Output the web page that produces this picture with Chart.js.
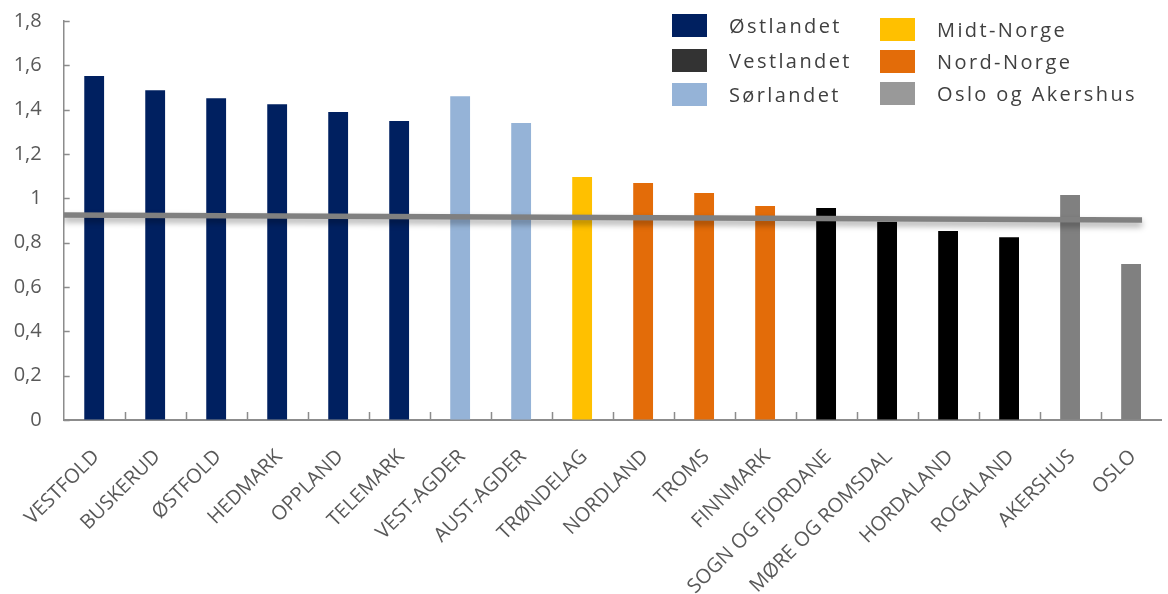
<!DOCTYPE html>
<html>
<head>
<meta charset="utf-8">
<script src="https://cdn.jsdelivr.net/npm/chart.js@4.4.1/dist/chart.umd.min.js"></script>
<style>
  html, body { margin: 0; padding: 0; background: #fff; overflow: hidden; }
  #wrap { position: relative; width: 1173px; height: 594px; }
  #legend { position: absolute; left: 0; top: 0; }
  .item { position: absolute; height: 23px; font: 20px "Open Sans", sans-serif; letter-spacing: 2.4px; color: #404040; white-space: nowrap; }
  .item i { position: absolute; left: 0; top: 0; width: 35px; height: 23px; }
  .item span { position: absolute; left: 57px; top: -2px; }
</style>
</head>
<body>
<div id="wrap">
  <canvas id="chart"></canvas>
  <div id="legend"></div>
</div>
<script>
const categories = ['VESTFOLD', 'BUSKERUD', 'ØSTFOLD', 'HEDMARK', 'OPPLAND', 'TELEMARK', 'VEST-AGDER', 'AUST-AGDER',
    'TRØNDELAG', 'NORDLAND', 'TROMS', 'FINNMARK', 'SOGN OG FJORDANE', 'MØRE OG ROMSDAL', 'HORDALAND', 'ROGALAND',
    'AKERSHUS', 'OSLO'];
const values = [1.552, 1.488, 1.452, 1.425, 1.389, 1.349, 1.461, 1.340, 1.096, 1.069, 1.024, 0.965, 0.956, 0.894,
    0.853, 0.825, 1.015, 0.704];
// index into regions for each category
const categoryRegion = [0, 0, 0, 0, 0, 0, 2, 2, 3, 4, 4, 4, 1, 1, 1, 1, 5, 5];
const regions = ['Østlandet', 'Vestlandet', 'Sørlandet', 'Midt-Norge', 'Nord-Norge', 'Oslo og Akershus'];
const regionColors = ['#002060', '#000000', '#95b3d7', '#ffc000', '#e36c09', '#808080'];
const swatchColors = ['#002060', '#333333', '#95b3d7', '#ffc000', '#e36c09', '#999999'];
// flat line across the plot, in category-index units
const trendX = [-0.5, 17.18];
const trendY = [0.925, 0.902];
const yTicks = [0, 0.2, 0.4, 0.6, 0.8, 1, 1.2, 1.4, 1.6, 1.8];

const axisColor = '#8c8c8c';
const labelColor = '#595959';

// legend, two columns of three
const legendPos = [[672, 14], [672, 49], [672, 83], [880, 18], [880, 50], [880, 82]];
const legendEl = document.getElementById('legend');
regions.forEach((name, i) => {
    const d = document.createElement('div');
    d.className = 'item';
    d.style.left = legendPos[i][0] + 'px';
    d.style.top = legendPos[i][1] + 'px';
    d.innerHTML = `<i style="background:${swatchColors[i]}"></i><span>${name}</span>`;
    legendEl.appendChild(d);
});

// tick marks pointing into the plot
const innerTicks = {
    id: 'innerTicks',
    afterDraw(chart) {
        const { ctx } = chart;
        const x = chart.scales.x, y = chart.scales.y;
        ctx.save();
        ctx.strokeStyle = axisColor;
        ctx.lineWidth = 1.5;
        ctx.beginPath();
        yTicks.forEach(v => {
            const py = Math.round(y.getPixelForValue(v)) + 0.5;
            ctx.moveTo(x.left, py);
            ctx.lineTo(x.left + 6, py);
        });
        const step = x.width / categories.length;
        for (let i = 1; i < categories.length; i++) {
            const px = Math.round(x.left + i * step) + 0.5;
            ctx.moveTo(px, y.bottom);
            ctx.lineTo(px, y.bottom - 8);
        }
        ctx.stroke();
        ctx.restore();
    }
};

// soft shadow under the trend line
const lineShadow = {
    id: 'lineShadow',
    beforeDatasetDraw(chart, args) {
        if (args.index !== 1) return;
        const ctx = chart.ctx;
        ctx.save();
        ctx.shadowColor = 'rgba(0,0,0,0.35)';
        ctx.shadowBlur = 6;
        ctx.shadowOffsetY = 4;
    },
    afterDatasetDraw(chart, args) {
        if (args.index === 1) chart.ctx.restore();
    }
};

new Chart(document.getElementById('chart'), {
    data: {
        labels: categories,
        datasets: [{
            type: 'bar',
            data: values,
            backgroundColor: categoryRegion.map(r => regionColors[r]),
            barPercentage: 0.325,
            categoryPercentage: 1,
            grouped: false,
            order: 2
        }, {
            type: 'line',
            xAxisID: 'xt',
            data: trendX.map((x, i) => ({ x, y: trendY[i] })),
            borderColor: '#808080',
            borderWidth: 5.5,
            borderCapStyle: 'butt',
            pointRadius: 0,
            order: 1
        }]
    },
    options: {
        responsive: true,
        maintainAspectRatio: false,
        animation: false,
        devicePixelRatio: 1,
        layout: { padding: { top: 21, right: 0, left: 0, bottom: 0 } },
        plugins: { legend: { display: false }, tooltip: { enabled: false } },
        scales: {
            x: {
                type: 'category',
                offset: true,
                grid: { display: false, drawTicks: false },
                border: { color: axisColor, width: 2 },
                ticks: {
                    color: labelColor,
                    font: { family: 'Open Sans', size: 20 },
                    minRotation: 45,
                    maxRotation: 45,
                    autoSkip: false,
                    padding: 25,
                    labelOffset: 2
                },
                afterFit(scale) { scale.height = 174; }
            },
            xt: { type: 'linear', min: -0.5, max: 17.5, display: false },
            y: {
                min: 0,
                max: 1.8,
                // invisible tick marks only to push the labels away from the axis
                grid: { display: true, drawOnChartArea: false, drawTicks: true, tickLength: 22, tickColor: 'rgba(0,0,0,0)' },
                border: { color: axisColor, width: 1.5 },
                afterBuildTicks(scale) { scale.ticks = yTicks.map(v => ({ value: v })); },
                ticks: {
                    color: labelColor,
                    font: { family: 'Open Sans', size: 20 },
                    padding: 0,
                    callback: v => String(Math.round(v * 10) / 10).replace('.', ',')
                },
                afterFit(scale) { scale.width = 62; }
            }
        }
    },
    plugins: [innerTicks, lineShadow]
});
</script>
</body>
</html>
